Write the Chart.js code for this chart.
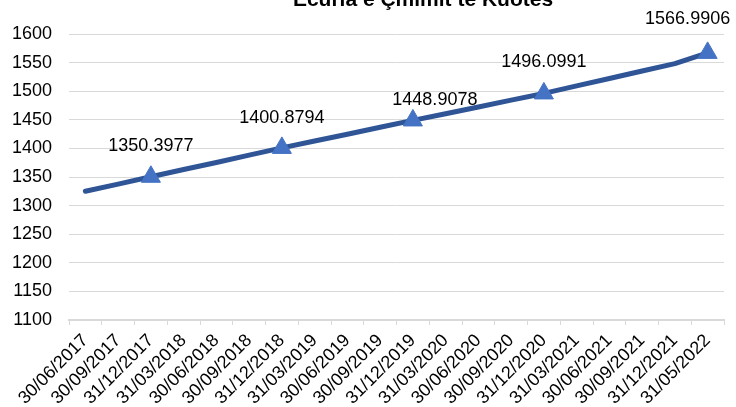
<!DOCTYPE html>
<html>
<head>
<meta charset="utf-8">
<script src="https://cdn.jsdelivr.net/npm/chart.js@4"></script>
<style>
  html, body { margin: 0; padding: 0; background: #fff; }
  #wrap { width: 736px; height: 407px; }
</style>
</head>
<body>
<div id="wrap"><canvas id="myChart"></canvas></div>
<script>
const titleText = 'Ecuria e Çmimit te Kuotes';

const dates = ['30/06/2017', '30/09/2017', '31/12/2017', '31/03/2018', '30/06/2018',
  '30/09/2018', '31/12/2018', '31/03/2019', '30/06/2019', '30/09/2019',
  '31/12/2019', '31/03/2020', '30/06/2020', '30/09/2020', '31/12/2020',
  '31/03/2021', '30/06/2021', '30/09/2021', '31/12/2021', '31/05/2022'];

const prices = [1325.0, 1337.6, 1350.3977, 1363.1, 1375.4,
  1388.3, 1400.8794, 1412.9, 1424.8, 1436.9,
  1448.9078, 1460.6, 1472.5, 1484.4, 1496.0991,
  1509.2, 1522.1, 1535.3, 1548.2, 1566.9906];

// points that carry a marker and a value label
const marked = [2, 6, 10, 14, 19];

const yTicks = [1100, 1150, 1200, 1250, 1300, 1350, 1400, 1450, 1500, 1550, 1600];

const FONT = "'Liberation Sans', Arial, sans-serif";

// value labels above the marked points
const labelPlugin = {
  id: 'pointLabels',
  afterDatasetsDraw(chart, args, opts) {
    const ctx = chart.ctx;
    const meta = chart.getDatasetMeta(0);
    ctx.save();
    ctx.font = '18px ' + FONT;
    ctx.fillStyle = '#000';
    ctx.textAlign = 'center';
    ctx.textBaseline = 'middle';
    marked.forEach((i, k) => {
      const pt = meta.data[i];
      const off = opts.offsets[k];
      ctx.fillText(prices[i].toFixed(4), pt.x + off[0], pt.y + off[1]);
    });
    ctx.restore();
  }
};

// title, partly cut off at the top like the original
const titlePlugin = {
  id: 'topTitle',
  afterDraw(chart) {
    const ctx = chart.ctx;
    ctx.save();
    ctx.font = 'bold 21px ' + FONT;
    ctx.fillStyle = '#000';
    ctx.textAlign = 'center';
    ctx.textBaseline = 'alphabetic';
    ctx.fillText(titleText, 423, 6);
    ctx.restore();
  }
};

const ctx = document.getElementById('myChart');
new Chart(ctx, {
  type: 'line',
  data: {
    labels: dates,
    datasets: [{
      data: prices,
      borderColor: '#2F5597',
      borderWidth: 5,
      borderCapStyle: 'round',
      borderJoinStyle: 'round',
      tension: 0,
      pointStyle: 'triangle',
      pointRadius: prices.map((v, i) => marked.includes(i) ? 11 : 0),
      pointHoverRadius: 0,
      pointBackgroundColor: '#4472C4',
      pointBorderColor: '#4472C4',
      pointBorderWidth: 1
    }]
  },
  options: {
    responsive: true,
    maintainAspectRatio: false,
    animation: false,
    layout: {
      padding: { top: 34, left: 12, right: 8, bottom: 0 }
    },
    scales: {
      x: {
        offset: true,
        afterFit(scale) {
          // labels run off the bottom edge, as in the original
          scale.height = 87;
          scale.paddingLeft = 0;
          scale.paddingRight = 0;
        },
        grid: {
          offset: true,
          drawOnChartArea: false,
          drawTicks: true,
          tickLength: 5,
          color: '#d9d9d9'
        },
        border: { display: true, color: '#d9d9d9', width: 2 },
        ticks: {
          autoSkip: false,
          minRotation: 45,
          maxRotation: 45,
          padding: 5,
          color: '#000',
          font: { family: FONT, size: 18 }
        }
      },
      y: {
        min: 1100,
        max: 1600,
        afterBuildTicks(scale) {
          scale.ticks = yTicks.map(v => ({ value: v }));
        },
        afterFit(scale) {
          scale.width = 57;
        },
        grid: {
          color: '#d9d9d9',
          lineWidth: 1,
          drawTicks: false
        },
        border: { display: false },
        ticks: {
          padding: 17,
          color: '#000',
          font: { family: FONT, size: 18 },
          callback: v => String(v)
        }
      }
    },
    plugins: {
      legend: { display: false },
      title: { display: false },
      tooltip: { enabled: false },
      pointLabels: {
        offsets: [[0, -31], [0, -30], [22, -20], [0, -31], [-20, -34]]
      }
    }
  },
  plugins: [labelPlugin, titlePlugin]
});
</script>
</body>
</html>
